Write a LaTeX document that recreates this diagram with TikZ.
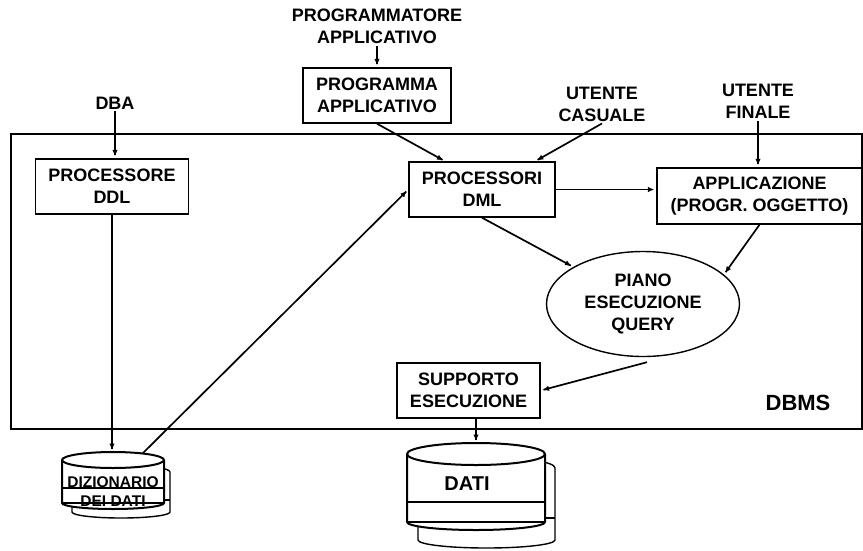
\documentclass[tikz,border=0pt]{standalone}
\usepackage{fontspec}
\setmainfont{Liberation Sans}
\usetikzlibrary{
  positioning, calc, shapes.geometric,
	arrows.meta, decorations.markings}
\tikzset{
    Arrow/.style = {
        line width=1.7pt,
        decoration={
            markings,
            mark=at position 1 with {
                \arrow{Latex[length=9pt, width=7.5pt]}
                }
            },
        shorten >= 3pt,
        preaction = {decorate}
    },
    Box/.style = {
        draw, line width=1.4pt, align=center, inner sep=0pt,
        font=\bfseries\fontsize{18}{22}\selectfont
    },
    Label/.style = {
        align=center, inner sep=2pt,
        font=\bfseries\fontsize{18}{22}\selectfont
    }
}

\begin{document}
\begin{tikzpicture}[x=1pt, y=-1pt]
    \useasboundingbox (0,0) rectangle (863,550);
    % DBMS frame
    \draw [line width=1.4pt] (11,134) rectangle (862,429);
    \node [font=\bfseries\fontsize{22}{26}\selectfont] (DBMS) at (798,403) {DBMS};
    % boxes
    \node [Box, minimum width=153pt, minimum height=55pt] (DDL) at (112,186.5) {PROCESSORE\\DDL};
    \node [Box, minimum width=148pt, minimum height=55pt] (PA) at (377,95.5) {PROGRAMMA\\APPLICATIVO};
    \node [Box, minimum width=146pt, minimum height=55pt] (DML) at (482,189.5) {PROCESSORI\\DML};
    \node [Box, minimum width=205pt, minimum height=56pt] (APP) at (759.5,196) {APPLICAZIONE\\(PROGR. OGGETTO)};
    \node [Box, minimum width=143pt, minimum height=55pt] (SUP) at (468.5,390.5) {SUPPORTO\\ESECUZIONE};
    \node [Box, ellipse, minimum width=193pt, minimum height=105pt] (Q) at (643,304) {PIANO\\ESECUZIONE\\QUERY};
    % users
    \node [Label] (DBA) at (115,103) {DBA};
    \node [Label] (PROG) at (377,26.5) {PROGRAMMATORE\\APPLICATIVO};
    \node [Label] (UC) at (602,104) {UTENTE\\CASUALE};
    \node [Label] (UF) at (758,101.5) {UTENTE\\FINALE};
    % disks
    \draw [line width=1.4pt, fill=white] (72,472) -- (72,512) arc[start angle=180, end angle=360, x radius=49pt, y radius=6pt] -- (170,472) arc[start angle=0, end angle=180, x radius=49pt, y radius=7pt] -- cycle;
    \draw [line width=1.4pt] (72,500) -- (170,500);
    \draw [line width=2pt, fill=white] (62,460) -- (62,503) arc[start angle=180, end angle=360, x radius=51pt, y radius=6pt] -- (164,460) arc[start angle=0, end angle=180, x radius=51pt, y radius=8pt] -- cycle;
    \draw [line width=2pt] (62,460) arc[start angle=180, end angle=360, x radius=51pt, y radius=8pt];
    \draw [line width=1.4pt] (62,488) -- (164,488);
    \draw [line width=2pt] (62,503) -- (164,503);
    \draw [line width=1.4pt, fill=white] (418,468) -- (418,540) arc[start angle=180, end angle=360, x radius=68.5pt, y radius=8pt] -- (555,468) arc[start angle=0, end angle=180, x radius=68.5pt, y radius=11pt] -- cycle;
    \draw [line width=1.4pt] (418,518) -- (555,518);
    \draw [line width=2pt, fill=white] (407,454) -- (407,522) arc[start angle=180, end angle=360, x radius=69pt, y radius=8pt] -- (545,454) arc[start angle=0, end angle=180, x radius=69pt, y radius=11pt] -- cycle;
    \draw [line width=2pt] (407,454) arc[start angle=180, end angle=360, x radius=69pt, y radius=11pt];
    \draw [line width=1.4pt] (407,502) -- (545,502);
    \draw [line width=2pt] (407,522) -- (545,522);
    \node [font=\bfseries\fontsize{15.5}{19}\selectfont, align=center, inner sep=0pt] (DIZ) at (113,492) {DIZIONARIO\\DEI DATI};
    \node [font=\bfseries\fontsize{20}{24}\selectfont, inner sep=0pt] (DATI) at (467,484) {DATI};
    \coordinate (DIZtop) at (113,452);
    \coordinate (DIZedge) at (143,453);
    \coordinate (DATItop) at (476,443);
    % arrows
    \draw [Arrow] (DBA.south) to (DBA.south |- DDL.north);
    \draw [Arrow] (PROG.south) to (PA.north);
    \draw [Arrow] (PA.south) to ($(DML.north west)!0.25!(DML.north east)$);
    \draw [Arrow] (UC.south) to ($(DML.north west)!0.86!(DML.north east)$);
    \draw [Arrow] (UF.south) to (UF.south |- APP.north);
    \draw [Arrow] (DML.east) to (APP.west |- DML.east);
    \draw [Arrow] (DML.south) to (Q.152);
    \draw [Arrow] (APP.south) to (Q.20);
    \draw [Arrow] ($(Q.south)+(4,5)$) to (SUP.east);
    \draw [Arrow] (SUP.south -| DATItop) to (DATItop);
    \draw [Arrow] (DDL.south) to (DDL.south |- DIZtop);
    \draw [Arrow] (DIZedge) to (DML.west);
  \end{tikzpicture}
\end{document}
